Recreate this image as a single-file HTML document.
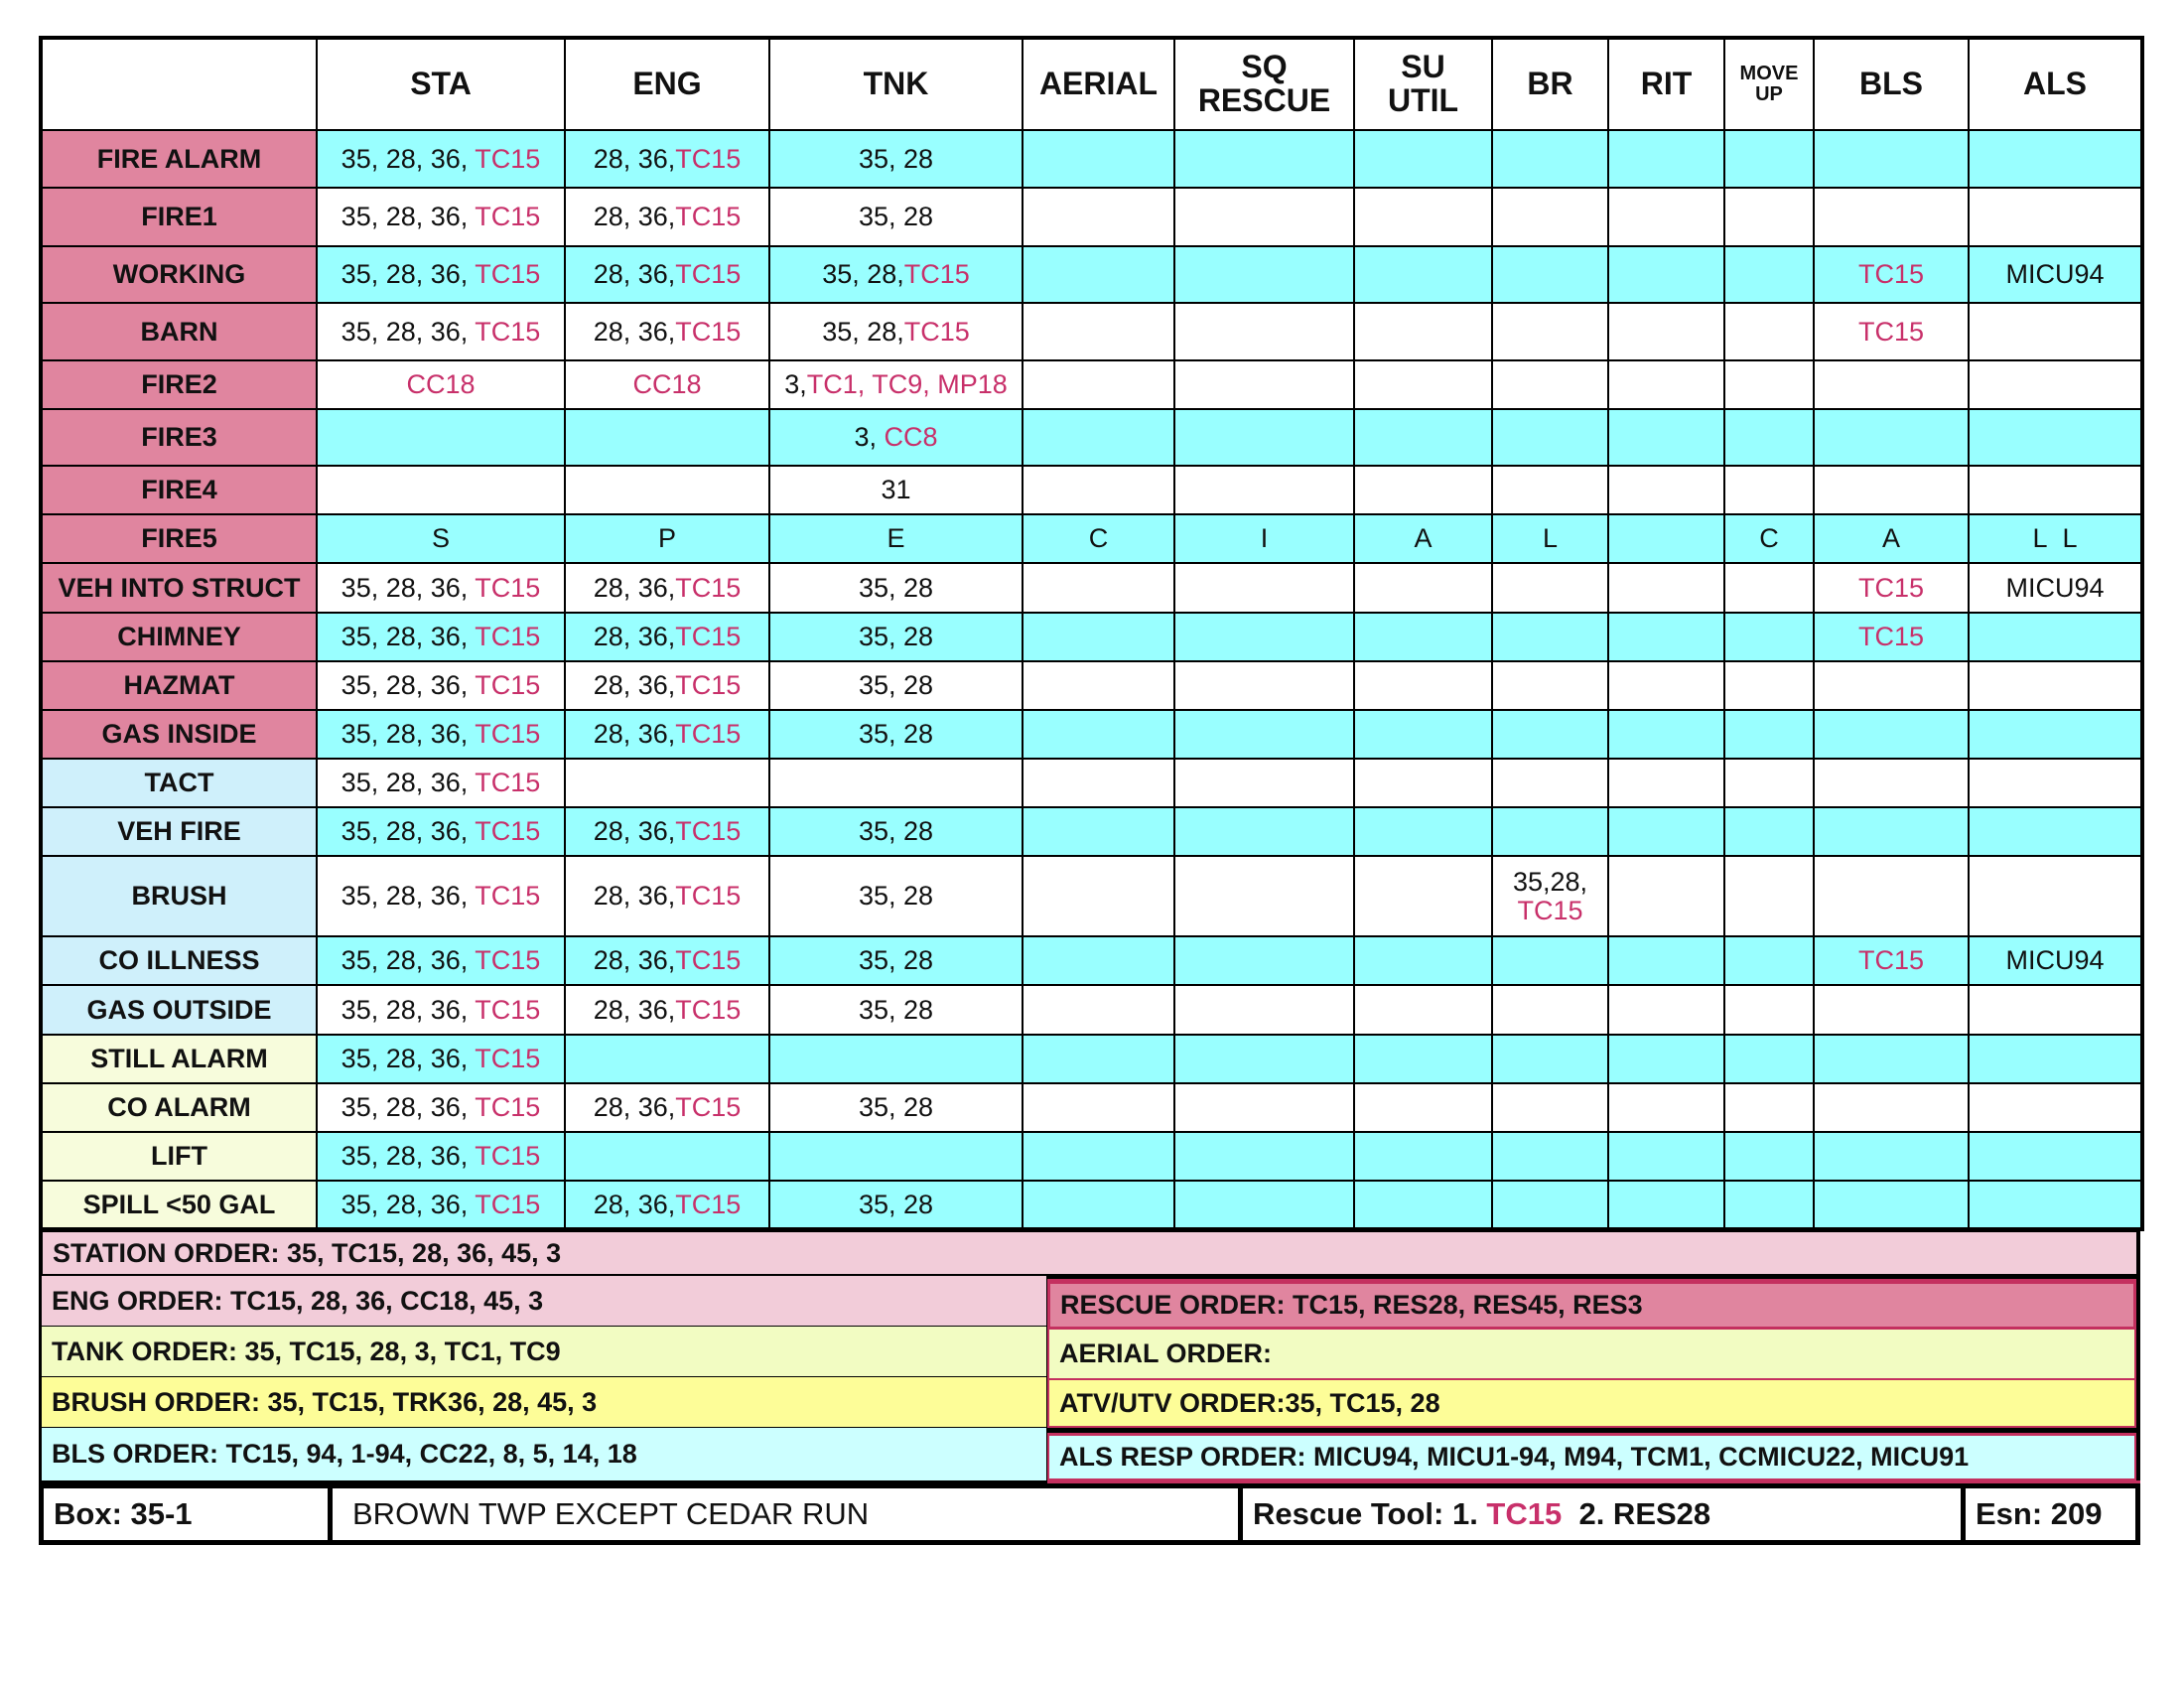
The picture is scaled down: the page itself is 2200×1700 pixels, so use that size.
<!DOCTYPE html>
<html><head><meta charset="utf-8">
<style>
body{margin:0;width:2200px;height:1700px;background:#fff;position:relative;font-family:"Liberation Sans",Arial,sans-serif;overflow:hidden}
table{position:absolute;left:39px;top:36px;width:2117px;border-collapse:collapse;table-layout:fixed;border:4px solid #000}
td{border:2px solid #000;text-align:center;vertical-align:middle;font-size:27px;color:#111;padding:0;line-height:1.05}
thead td{font-weight:bold;font-size:32px;background:#fff}
td.l{font-weight:bold;font-size:27px}
.p{background:#e0859f}.b{background:#cff0fb}.y{background:#f7fcdc}
tr.c td{background:#99ffff}
tr.c td.p{background:#e0859f}tr.c td.b{background:#cff0fb}tr.c td.y{background:#f7fcdc}
tr.c td.w{background:#fff}
.r{color:#c8306a}
.o{position:absolute;font-weight:bold;font-size:27px;box-sizing:border-box;padding-left:10px;display:flex;align-items:center;color:#111}
.bx{position:absolute;top:1494px;height:62px;box-sizing:border-box;border:5px solid #000;display:flex;align-items:center;font-size:31px;padding-left:10px;color:#111}
</style></head><body>
<table>
<colgroup><col style="width:278px"><col style="width:250px"><col style="width:206px"><col style="width:255px"><col style="width:153px"><col style="width:181px"><col style="width:139px"><col style="width:117px"><col style="width:117px"><col style="width:90px"><col style="width:156px"><col style="width:175px"></colgroup>
<thead><tr style="height:93px"><td></td><td>STA</td><td>ENG</td><td>TNK</td><td>AERIAL</td><td>SQ<br>RESCUE</td><td>SU<br>UTIL</td><td>BR</td><td>RIT</td><td style="font-size:20px">MOVE<br>UP</td><td>BLS</td><td>ALS</td></tr></thead>
<tbody>
<tr class="c" style="height:58px"><td class="l p">FIRE ALARM</td><td>35, 28, 36, <span class="r">TC15</span></td><td>28, 36,<span class="r">TC15</span></td><td>35, 28</td><td></td><td></td><td></td><td></td><td></td><td></td><td></td><td></td></tr>
<tr style="height:59px"><td class="l p">FIRE1</td><td>35, 28, 36, <span class="r">TC15</span></td><td>28, 36,<span class="r">TC15</span></td><td>35, 28</td><td></td><td></td><td></td><td></td><td></td><td></td><td></td><td></td></tr>
<tr class="c" style="height:57px"><td class="l p">WORKING</td><td>35, 28, 36, <span class="r">TC15</span></td><td>28, 36,<span class="r">TC15</span></td><td>35, 28,<span class="r">TC15</span></td><td></td><td></td><td></td><td></td><td></td><td></td><td><span class="r">TC15</span></td><td>MICU94</td></tr>
<tr style="height:58px"><td class="l p">BARN</td><td>35, 28, 36, <span class="r">TC15</span></td><td>28, 36,<span class="r">TC15</span></td><td>35, 28,<span class="r">TC15</span></td><td></td><td></td><td></td><td></td><td></td><td></td><td><span class="r">TC15</span></td><td></td></tr>
<tr style="height:49px"><td class="l p">FIRE2</td><td><span class="r">CC18</span></td><td><span class="r">CC18</span></td><td>3,<span class="r">TC1, TC9, MP18</span></td><td></td><td></td><td></td><td></td><td></td><td></td><td></td><td></td></tr>
<tr class="c" style="height:57px"><td class="l p">FIRE3</td><td></td><td></td><td>3, <span class="r">CC8</span></td><td></td><td></td><td></td><td></td><td></td><td></td><td></td><td></td></tr>
<tr style="height:49px"><td class="l p">FIRE4</td><td></td><td></td><td>31</td><td></td><td></td><td></td><td></td><td></td><td></td><td></td><td></td></tr>
<tr class="c" style="height:49px"><td class="l p">FIRE5</td><td>S</td><td>P</td><td>E</td><td>C</td><td>I</td><td>A</td><td>L</td><td></td><td>C</td><td>A</td><td>L&nbsp;&nbsp;L</td></tr>
<tr style="height:50px"><td class="l p">VEH INTO STRUCT</td><td>35, 28, 36, <span class="r">TC15</span></td><td>28, 36,<span class="r">TC15</span></td><td>35, 28</td><td></td><td></td><td></td><td></td><td></td><td></td><td><span class="r">TC15</span></td><td>MICU94</td></tr>
<tr class="c" style="height:49px"><td class="l p">CHIMNEY</td><td>35, 28, 36, <span class="r">TC15</span></td><td>28, 36,<span class="r">TC15</span></td><td>35, 28</td><td></td><td></td><td></td><td></td><td></td><td></td><td><span class="r">TC15</span></td><td></td></tr>
<tr style="height:49px"><td class="l p">HAZMAT</td><td>35, 28, 36, <span class="r">TC15</span></td><td>28, 36,<span class="r">TC15</span></td><td>35, 28</td><td></td><td></td><td></td><td></td><td></td><td></td><td></td><td></td></tr>
<tr class="c" style="height:49px"><td class="l p">GAS INSIDE</td><td>35, 28, 36, <span class="r">TC15</span></td><td>28, 36,<span class="r">TC15</span></td><td>35, 28</td><td></td><td></td><td></td><td></td><td></td><td></td><td></td><td></td></tr>
<tr style="height:49px"><td class="l b">TACT</td><td>35, 28, 36, <span class="r">TC15</span></td><td></td><td></td><td></td><td></td><td></td><td></td><td></td><td></td><td></td><td></td></tr>
<tr class="c" style="height:49px"><td class="l b">VEH FIRE</td><td>35, 28, 36, <span class="r">TC15</span></td><td>28, 36,<span class="r">TC15</span></td><td>35, 28</td><td></td><td></td><td></td><td></td><td></td><td></td><td></td><td></td></tr>
<tr style="height:81px"><td class="l b">BRUSH</td><td>35, 28, 36, <span class="r">TC15</span></td><td>28, 36,<span class="r">TC15</span></td><td>35, 28</td><td></td><td></td><td></td><td>35,28,<br><span class="r">TC15</span></td><td></td><td></td><td></td><td></td></tr>
<tr class="c" style="height:49px"><td class="l b">CO ILLNESS</td><td>35, 28, 36, <span class="r">TC15</span></td><td>28, 36,<span class="r">TC15</span></td><td>35, 28</td><td></td><td></td><td></td><td></td><td></td><td></td><td><span class="r">TC15</span></td><td>MICU94</td></tr>
<tr style="height:50px"><td class="l b">GAS OUTSIDE</td><td>35, 28, 36, <span class="r">TC15</span></td><td>28, 36,<span class="r">TC15</span></td><td>35, 28</td><td></td><td></td><td></td><td></td><td></td><td></td><td></td><td></td></tr>
<tr class="c" style="height:49px"><td class="l y">STILL ALARM</td><td>35, 28, 36, <span class="r">TC15</span></td><td></td><td></td><td></td><td></td><td></td><td></td><td></td><td></td><td></td><td></td></tr>
<tr style="height:49px"><td class="l y">CO ALARM</td><td>35, 28, 36, <span class="r">TC15</span></td><td>28, 36,<span class="r">TC15</span></td><td>35, 28</td><td></td><td></td><td></td><td></td><td></td><td></td><td></td><td></td></tr>
<tr class="c" style="height:49px"><td class="l y">LIFT</td><td>35, 28, 36, <span class="r">TC15</span></td><td></td><td></td><td></td><td></td><td></td><td></td><td></td><td></td><td></td><td></td></tr>
<tr class="c" style="height:49px"><td class="l y">SPILL &lt;50 GAL</td><td>35, 28, 36, <span class="r">TC15</span></td><td>28, 36,<span class="r">TC15</span></td><td>35, 28</td><td></td><td></td><td></td><td></td><td></td><td></td><td></td><td></td></tr>
</tbody></table>

<div class="o" style="left:39px;top:1236px;width:2117px;height:51px;background:#f2ccd9;border:4px solid #000;border-top-width:5px">STATION ORDER: 35, TC15, 28, 36, 45, 3</div>
<div class="o" style="left:39px;top:1285px;width:1018px;height:53px;background:#f2ccd9;border:3px solid #000;border-top:none">ENG ORDER: TC15, 28, 36, CC18, 45, 3</div>
<div class="o" style="left:39px;top:1336px;width:1018px;height:53px;background:#f2fcc2;border:3px solid #000;border-top:none">TANK ORDER: 35, TC15, 28, 3, TC1, TC9</div>
<div class="o" style="left:39px;top:1387px;width:1018px;height:53px;background:#fdfd98;border:3px solid #000;border-top:none">BRUSH ORDER: 35, TC15, TRK36, 28, 45, 3</div>
<div class="o" style="left:39px;top:1438px;width:1018px;height:56px;background:#ccffff;border:3px solid #000;border-top:none">BLS ORDER: TC15, 94, 1-94, CC22, 8, 5, 14, 18</div>
<div style="position:absolute;left:1055px;top:1285px;width:1101px;height:209px;background:#000"></div>
<div class="o" style="left:1055px;top:1288px;width:1097px;height:51px;background:#e0859f;border:3px solid #c4305f;border-top-width:5px">RESCUE ORDER: TC15, RES28, RES45, RES3</div>
<div class="o" style="left:1055px;top:1339px;width:1097px;height:51px;background:#f2fcc2;border:2px solid #c4305f;border-top:none">AERIAL ORDER:</div>
<div class="o" style="left:1055px;top:1390px;width:1097px;height:48px;background:#fdfd98;border:2px solid #c4305f;border-top:none">ATV/UTV ORDER:35, TC15, 28</div>
<div class="o" style="left:1055px;top:1443px;width:1097px;height:48px;background:#ccffff;border:2px solid #c4305f;border-top-width:3px">ALS RESP ORDER: MICU94, MICU1-94, M94, TCM1, CCMICU22, MICU91</div>
<div style="position:absolute;left:1055px;top:1491px;width:1101px;height:6px;background:#c4305f"></div>

<div class="bx" style="left:39px;width:296px;font-weight:bold">Box: 35-1</div>
<div class="bx" style="left:330px;width:922px;padding-left:20px">BROWN TWP EXCEPT CEDAR RUN</div>
<div class="bx" style="left:1247px;width:733px;font-weight:bold">Rescue Tool: 1.&nbsp;<span class="r">TC15</span>&nbsp;&nbsp;2. RES28</div>
<div class="bx" style="left:1975px;width:181px;font-weight:bold">Esn: 209</div>
</body></html>
